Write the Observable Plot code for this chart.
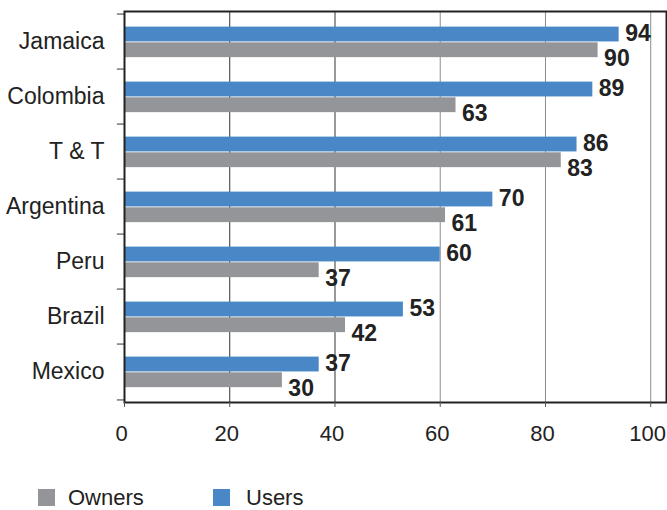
<!DOCTYPE html>
<html><head><meta charset="utf-8">
<script src="https://cdn.jsdelivr.net/npm/d3@7"></script>
<script src="https://cdn.jsdelivr.net/npm/@observablehq/plot@0.6"></script>
<style>
body{margin:0;background:#fff;font-family:"Liberation Sans",Arial,sans-serif;}
#wrap{position:relative;width:667px;height:510px;overflow:hidden;}
#legend{position:absolute;left:0;top:486px;height:24px;width:667px;font-size:22px;color:#222;}
#legend .sw{width:17px;height:17px;display:inline-block;}
#legend .lab{position:absolute;white-space:nowrap;line-height:24px;top:0;}
</style></head><body><div id="wrap"><div id="chart"></div><div id="legend"></div></div>
<script>
const countries = ["Jamaica","Colombia","T & T","Argentina","Peru","Brazil","Mexico"];
const users = [94,89,86,70,60,53,37];
const owners = [90,63,83,61,37,42,30];
const xTicks = [0,20,40,60,80,100];
const seriesNames = ["Owners","Users"];
const seriesColors = ["#939598","#4a87c6"];

const rows = countries.map((c,i)=>({country:c, users:users[i], owners:owners[i]}));
const H = 480, plotTop = 11, plotBottom = 402;
const step = (plotBottom - plotTop) / countries.length;
const barH = 15.7, uTop = 12.6, oTop = uTop + barH;
const valueFont = '"Liberation Sans Narrow","Arial Narrow","Liberation Sans",sans-serif';

const chart = Plot.plot({
  width: 667, height: H,
  marginTop: plotTop, marginBottom: H - plotBottom, marginLeft: 124, marginRight: 1,
  style: {fontFamily: '"Liberation Sans",Arial,sans-serif', color: "#222", background: "#fff"},
  x: {domain: [0, 103]},
  y: {domain: countries, padding: 0},
  marks: [
    Plot.ruleX(xTicks.slice(1), {x: d => d, stroke: d => d <= 40 ? "#333" : "#8c8c8c", strokeWidth: 1}),
    Plot.barX(rows, {x: "users", y: "country", fill: seriesColors[1], insetTop: uTop, insetBottom: step - uTop - barH}),
    Plot.barX(rows, {x: "owners", y: "country", fill: seriesColors[0], insetTop: oTop, insetBottom: step - oTop - barH}),
    Plot.text(rows, {x: "users", y: "country", text: d => String(d.users), dx: 6, dy: 19.5 - step/2,
      textAnchor: "start", fontWeight: "bold", fontSize: 23, fontFamily: valueFont, fill: "#222"}),
    Plot.text(rows, {x: "owners", y: "country", text: d => String(d.owners), dx: 6, dy: 44.8 - step/2,
      textAnchor: "start", fontWeight: "bold", fontSize: 23, fontFamily: valueFont, fill: "#222"}),
    Plot.ruleY(countries, {y: d => d, dy: -step/2, x1: -1.35, x2: 0, stroke: "#555", strokeWidth: 1.2}),
    Plot.ruleY(countries.slice(-1), {y: d => d, dy: step/2, x1: -1.35, x2: 0, stroke: "#555", strokeWidth: 1.2}),
    Plot.frame({stroke: "#222", strokeWidth: 2}),
    Plot.axisX({ticks: xTicks, tickSize: 5, tickFormat: () => "", label: null, stroke: "#555"}),
    Plot.text(xTicks, {x: d => d, text: d => String(d), frameAnchor: "bottom", dy: 38, dx: -3,
      fontSize: 22, fill: "#222"}),
    Plot.axisY({tickSize: 0, tickPadding: 20, fontSize: 23, label: null})
  ]
});
document.getElementById("chart").appendChild(chart);

const legend = document.getElementById("legend");
const swX = [38, 213], labX = [68, 246];
seriesNames.forEach((name, i) => {
  const sw = document.createElement("span");
  sw.className = "sw";
  sw.style.cssText = `position:absolute;left:${swX[i]}px;top:3px;background:${seriesColors[i]}`;
  legend.appendChild(sw);
  const lab = document.createElement("span");
  lab.className = "lab";
  lab.style.left = labX[i] + "px";
  lab.textContent = name;
  legend.appendChild(lab);
});
</script></body></html>
